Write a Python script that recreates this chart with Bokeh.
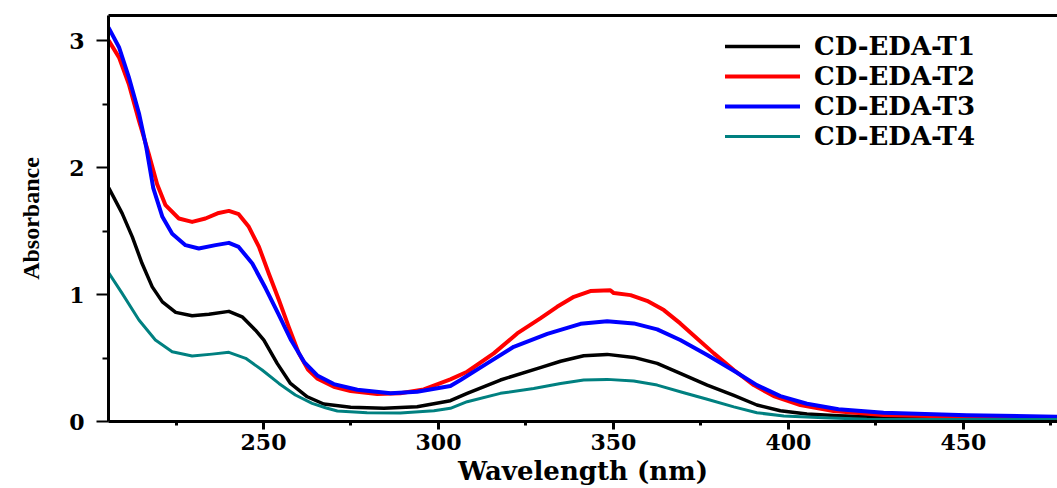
from bokeh.plotting import figure
from bokeh.models import FixedTicker, Range1d, Legend, LegendItem, LinearAxis
from bokeh.embed import file_html
from bokeh.resources import INLINE

# ---- data ----
t1_x = [205.8, 209.6, 212.5, 215.3, 218.2, 221.1, 224.9, 229.6, 234.4, 240.1, 243.9, 247.7,
        250.1, 253.9, 257.7, 262.5, 267.2, 274.9, 284.4, 293.9, 303.4, 308.2, 317.7, 329.1,
        334.9, 341.5, 348.2, 355.8, 362.5, 369.1, 376.8, 384.4, 391.0, 397.7, 405.3, 414.3,
        425.0, 441.4, 477.0]
t1_y = [1.84, 1.64, 1.455, 1.245, 1.061, 0.943, 0.86, 0.833, 0.846, 0.868, 0.825, 0.72,
        0.642, 0.458, 0.30, 0.195, 0.138, 0.112, 0.104, 0.117, 0.164, 0.222, 0.327, 0.425,
        0.475, 0.518, 0.529, 0.505, 0.458, 0.38, 0.287, 0.205, 0.13, 0.085, 0.059, 0.046,
        0.035, 0.025, 0.02]

t2_x = [205.8, 208.7, 211.5, 214.4, 217.2, 219.6, 222.0, 225.8, 229.6, 233.4, 237.2, 240.1,
        242.9, 245.8, 248.7, 251.5, 254.4, 257.2, 260.1, 262.7, 265.3, 270.1, 274.9, 282.5,
        289.1, 295.8, 303.4, 308.2, 315.8, 322.5, 329.1, 333.9, 338.7, 343.4, 349.1, 350.1,
        354.9, 359.6, 364.4, 369.1, 373.9, 378.7, 384.4, 390.1, 395.8, 403.4, 412.9, 427.2,
        451.0, 477.0]
t2_y = [3.00, 2.87, 2.66, 2.37, 2.11, 1.87, 1.705, 1.60, 1.573, 1.60, 1.644, 1.66,
        1.634, 1.534, 1.376, 1.167, 0.957, 0.746, 0.537, 0.41, 0.34, 0.274, 0.24, 0.217,
        0.222, 0.253, 0.332, 0.392, 0.537, 0.694, 0.813, 0.904, 0.983, 1.028, 1.035, 1.012,
        0.996, 0.951, 0.878, 0.773, 0.655, 0.537, 0.406, 0.287, 0.20, 0.13, 0.082, 0.051,
        0.038, 0.03]

t3_x = [205.8, 208.7, 211.5, 214.4, 216.5, 218.5, 221.1, 223.9, 227.7, 231.5, 236.3, 240.1,
        242.9, 246.8, 250.6, 254.2, 257.9, 261.7, 265.5, 270.1, 276.8, 286.3, 293.9, 303.4,
        306.3, 313.9, 321.5, 331.1, 340.6, 348.2, 355.8, 362.5, 369.1, 376.8, 384.4, 391.0,
        397.7, 405.3, 414.3, 427.2, 451.0, 477.0]
t3_y = [3.10, 2.95, 2.715, 2.43, 2.16, 1.84, 1.613, 1.48, 1.39, 1.364, 1.39, 1.408,
        1.376, 1.245, 1.05, 0.85, 0.64, 0.465, 0.36, 0.295, 0.25, 0.222, 0.235, 0.28,
        0.327, 0.458, 0.589, 0.69, 0.77, 0.791, 0.773, 0.726, 0.642, 0.524, 0.40, 0.287,
        0.20, 0.14, 0.096, 0.069, 0.049, 0.038]

t4_x = [205.8, 209.6, 214.4, 219.1, 223.9, 229.6, 235.3, 240.1, 244.9, 249.6, 254.4, 259.1,
        263.9, 267.7, 271.1, 279.6, 289.1, 298.7, 303.4, 308.2, 317.7, 327.2, 334.9, 341.5,
        348.2, 355.8, 362.5, 370.1, 376.8, 384.4, 391.0, 398.7, 410.1, 422.4, 477.0]
t4_y = [1.17, 1.01, 0.80, 0.642, 0.55, 0.516, 0.531, 0.545, 0.498, 0.406, 0.30, 0.209,
        0.143, 0.108, 0.083, 0.069, 0.067, 0.085, 0.104, 0.156, 0.222, 0.26, 0.30, 0.327,
        0.332, 0.319, 0.287, 0.227, 0.175, 0.115, 0.069, 0.043, 0.03, 0.017, 0.015]

names = ["CD-EDA-T1", "CD-EDA-T2", "CD-EDA-T3", "CD-EDA-T4"]
colors = ["#000000", "#ff0000", "#0000ff", "#008080"]
widths = [3.5, 4, 4, 3]

x_major = [250, 300, 350, 400, 450]
x_minor = [225, 275, 325, 375, 425, 475]
y_major = [0, 1, 2, 3]
y_minor = [0.5, 1.5, 2.5]

x_title = "Wavelength (nm)"
y_title = "Absorbance"

FONT = "DejaVu Serif"

p = figure(width=1057, height=488, output_backend="svg", toolbar_location=None,
           x_range=Range1d(205.7, 476.9), y_range=Range1d(0, 3.2),
           min_border_left=108, min_border_right=0, min_border_top=15, min_border_bottom=67)
p.outline_line_color = None
p.grid.visible = False
p.background_fill_color = "white"
p.border_fill_color = "white"

series = [(t1_x, t1_y), (t2_x, t2_y), (t3_x, t3_y), (t4_x, t4_y)]
items = []
for (xs, ys), n, c, w in zip(series, names, colors, widths):
    r = p.line(xs, ys, line_color=c, line_width=w, line_join="round", line_cap="round")
    items.append(LegendItem(label=n, renderers=[r]))

# axes styling
xa = p.xaxis[0]
xa.ticker = FixedTicker(ticks=x_major, minor_ticks=x_minor)
xa.axis_label = x_title
xa.axis_label_text_font = FONT
xa.axis_label_text_font_style = "bold"
xa.axis_label_text_font_size = "26px"
xa.axis_label_text_color = "black"
xa.axis_label_standoff = 3
xa.major_label_text_font = FONT
xa.major_label_text_font_style = "bold"
xa.major_label_text_font_size = "22px"
xa.major_label_text_color = "black"
xa.major_label_standoff = 4
xa.major_tick_in = 0
xa.major_tick_out = 8
xa.minor_tick_in = 0
xa.minor_tick_out = 4
xa.axis_line_width = 3
xa.major_tick_line_width = 3
xa.minor_tick_line_width = 3

ya = p.yaxis[0]
ya.ticker = FixedTicker(ticks=y_major, minor_ticks=y_minor)
ya.axis_label = y_title
ya.axis_label_text_font = "Liberation Serif"
ya.axis_label_text_font_style = "bold"
ya.axis_label_text_font_size = "24px"
ya.axis_label_text_color = "black"
ya.axis_label_standoff = 22
ya.major_label_text_font = FONT
ya.major_label_text_font_style = "bold"
ya.major_label_text_font_size = "22px"
ya.major_label_text_color = "black"
ya.major_label_standoff = 12
ya.major_tick_in = 0
ya.major_tick_out = 12
ya.minor_tick_in = 0
ya.minor_tick_out = 6
ya.axis_line_width = 3
ya.major_tick_line_width = 2
ya.minor_tick_line_width = 2

top = LinearAxis(ticker=FixedTicker(ticks=[]), major_label_text_font_size="0px",
                 major_tick_out=0, minor_tick_out=0, major_tick_in=0, minor_tick_in=0,
                 major_label_standoff=0, axis_line_width=3)
p.add_layout(top, "above")

legend = Legend(items=items, location=(617, 270), orientation="vertical")
legend.glyph_width = 75
legend.glyph_height = 30
legend.label_height = 30
legend.label_standoff = 14
legend.spacing = 0
legend.padding = 0
legend.margin = 0
legend.border_line_color = None
legend.background_fill_alpha = 0
legend.label_text_font = FONT
legend.label_text_font_style = "bold"
legend.label_text_font_size = "26px"
legend.label_text_color = "black"
p.add_layout(legend, "center")

open("out.html", "w").write(file_html(p, INLINE))
